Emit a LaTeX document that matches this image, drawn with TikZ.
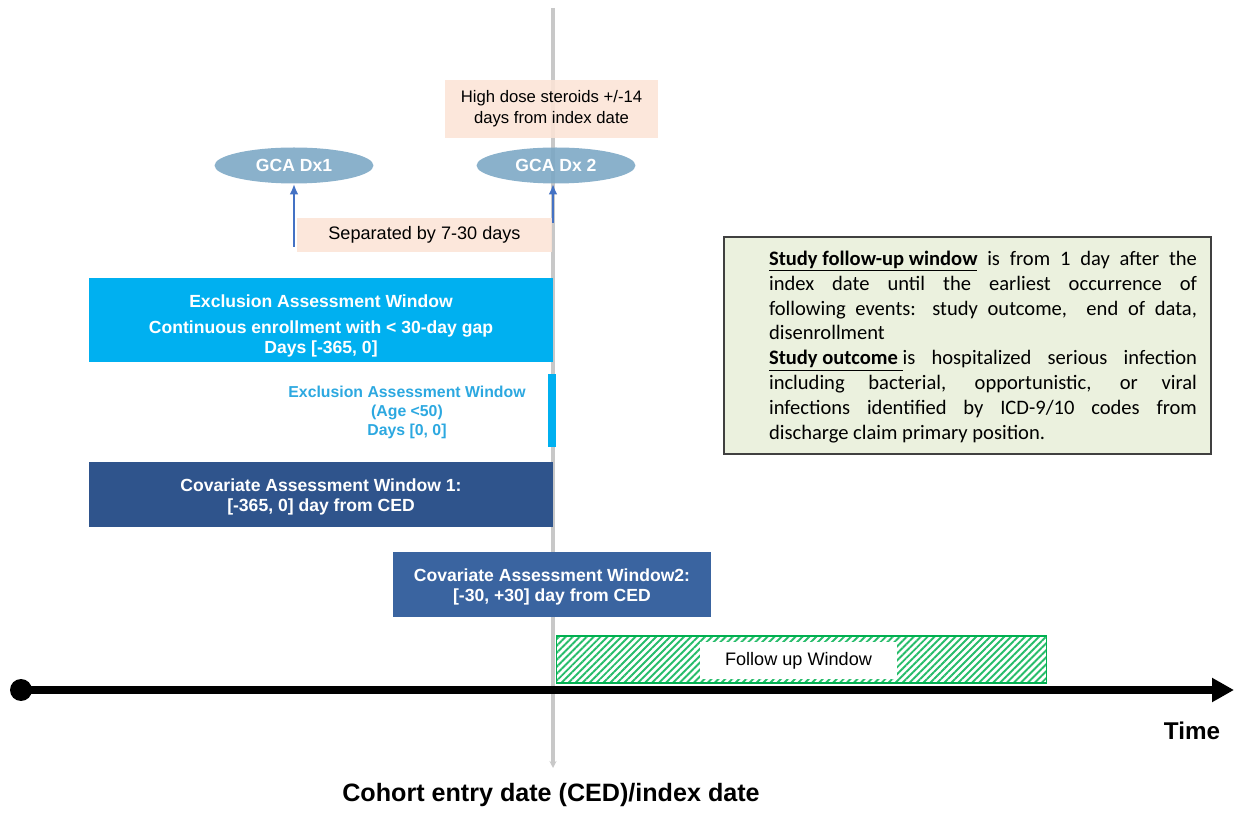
\documentclass[tikz,border=0pt]{standalone}
\usepackage{fontspec}
\setmainfont{Liberation Sans}
\newfontfamily\notefont{Carlito}
\usetikzlibrary{shapes.geometric,arrows.meta,patterns.meta}

\definecolor{peach}{RGB}{252,228,214}
\definecolor{dxblue}{RGB}{122,166,196}
\definecolor{arrowblue}{RGB}{68,114,196}
\definecolor{exclblue}{RGB}{0,176,240}
\definecolor{excltext}{RGB}{44,168,224}
\definecolor{covone}{RGB}{47,84,140}
\definecolor{covtwo}{RGB}{58,100,160}
\definecolor{fugreen}{RGB}{0,176,80}
\definecolor{notebg}{RGB}{235,241,222}
\definecolor{cedgray}{RGB}{200,200,200}

\begin{document}
\begin{tikzpicture}[x=0.02cm,y=-0.02cm,
  peachbox/.style={fill=peach,fill opacity=0.88,text opacity=1,inner sep=0pt,align=center,
    font=\fontsize{9.5}{12}\selectfont},
  dxnode/.style={ellipse,fill=dxblue,fill opacity=0.88,text opacity=1,inner sep=0pt,
    minimum width=3.18cm,minimum height=0.72cm,text=white,font=\bfseries\fontsize{10}{12}\selectfont},
  winbox/.style={inner sep=0pt,align=center,text=white,font=\bfseries\fontsize{10}{11.5}\selectfont},
  uparrow/.style={draw=arrowblue,line width=1.4pt,-{Latex[length=6pt,width=5pt]}},
  timeline/.style={line width=4.3pt,-{Triangle[length=12.5pt,width=13pt]}}]
\useasboundingbox (0,0) rectangle (1237,813);

% index date line
\coordinate (cedtop) at (553,8);
\coordinate (cedbot) at (553,768);
\draw[cedgray,line width=2.8pt,-{Stealth[length=4pt,width=4pt]}] (cedtop) -- (cedbot);

% diagnoses and steroids
\node[peachbox,minimum width=4.26cm,minimum height=1.16cm] (steroids) at (551.5,109)
  {High dose steroids +/-14\\days from index date};
\node[dxnode] (dx1) at (294,165.5) {GCA Dx1};
\node[dxnode] (dx2) at (556,165.5) {GCA Dx 2};
\node[peachbox,minimum width=5.1cm,minimum height=0.68cm,font=\fontsize{10.3}{12}\selectfont]
  (sep) at (424.5,235) {Separated by 7-30 days};
\coordinate (sepleft) at (294,247);
\coordinate (sepright) at (553,223);
\draw[uparrow] (sepleft) -- (dx1.south);
\draw[uparrow] (sepright) -- (sepright |- dx2.south);

% assessment windows
\node[winbox,fill=exclblue,minimum width=9.28cm,minimum height=1.68cm] (excl1) at (321,320)
  {\rule{0pt}{14pt}Exclusion Assessment Window\\[3pt]Continuous enrollment with < 30-day gap\\Days [-365, 0]};
\node[fill=exclblue,inner sep=0pt,minimum width=0.16cm,minimum height=1.46cm] (excl2) at (552,410.5) {};
\node[align=center,inner sep=0pt,text=excltext,font=\bfseries\fontsize{9}{10.8}\selectfont]
  (excl2text) at (407,412) {Exclusion Assessment Window\\(Age <50)\\Days [0, 0]};
\node[winbox,fill=covone,minimum width=9.28cm,minimum height=1.3cm] (cov1) at (321,494.5)
  {\rule{0pt}{10pt}Covariate Assessment Window 1:\\{}[-365, 0] day from CED};
\node[winbox,fill=covtwo,minimum width=6.36cm,minimum height=1.32cm] (cov2) at (552,584.5)
  {\rule{0pt}{10pt}Covariate Assessment Window2:\\{}[-30, +30] day from CED};

% follow up
\node[draw=fugreen,line width=0.6pt,pattern={Lines[angle=45,distance=2.8pt,line width=1.1pt]},
  pattern color=fugreen!85,minimum width=9.82cm,minimum height=0.94cm] (follow) at (801.5,659.5) {};
\node[fill=white,minimum width=3.94cm,minimum height=0.76cm,inner sep=0pt,
  font=\fontsize{10.3}{12}\selectfont] (followlbl) at (798.5,660.5) {Follow up Window\hspace{0.4cm}};

% time axis
\node[circle,fill=black,inner sep=0pt,minimum size=0.44cm] (start) at (21,690) {};
\coordinate (tend) at (1234,690);
\draw[timeline] (start.center) -- (tend);
\node[font=\bfseries\fontsize{13.8}{15}\selectfont] (time) at (1192,731) {Time};
\node[font=\bfseries\fontsize{14.3}{16}\selectfont] (ced) at (551,795) {Cohort entry date (CED)/index date};

% study note
\node[draw=black!75,line width=1.1pt,fill=notebg,minimum width=9.74cm,minimum height=4.34cm] (notebox) at (967.5,345.5) {};
\node[text width=8.56cm,align=justify,inner sep=0pt,font=\notefont\fontsize{11.7}{14.2}\selectfont]
  (note) at (983,347) {\parindent=0pt\hyphenpenalty=10000
  \underline{\textbf{Study follow-up window}} is from 1 day after the\linebreak
  index date until the earliest occurrence of\linebreak
  following events: study outcome,\ \ end of data,\linebreak
  disenrollment\par
  \underline{\textbf{Study outcome}\ }is hospitalized serious infection\linebreak
  including bacterial, opportunistic, or viral\linebreak
  infections identified by ICD-9/10 codes from\linebreak
  discharge claim primary position.};
\end{tikzpicture}
\end{document}
